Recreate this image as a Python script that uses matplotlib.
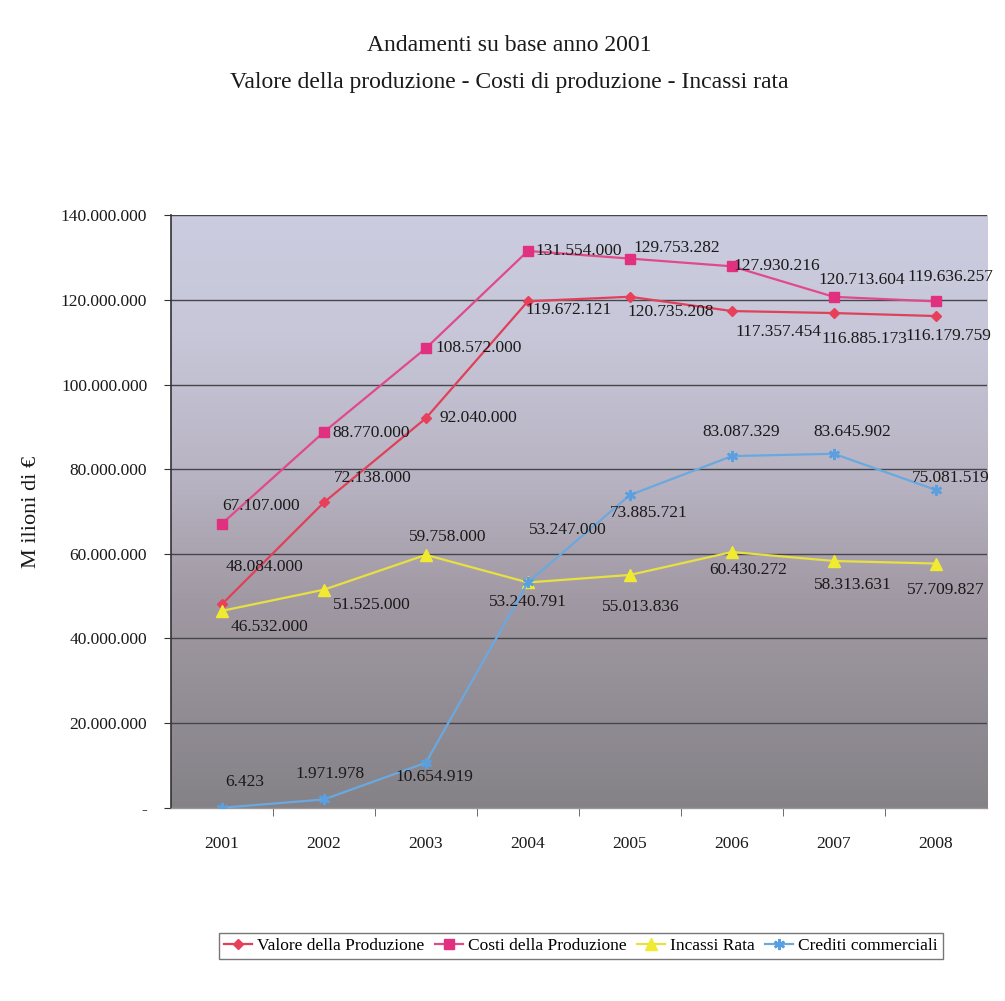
import numpy as np
import matplotlib
matplotlib.use("Agg")
import matplotlib.pyplot as plt
from matplotlib.colors import LinearSegmentedColormap
from matplotlib.ticker import FuncFormatter, FixedLocator

plt.rcParams['font.family'] = ['Liberation Serif', 'DejaVu Serif']

years = ['2001', '2002', '2003', '2004', '2005', '2006', '2007', '2008']
valore = [48084000, 72138000, 92040000, 119672121, 120735208, 117357454, 116885173, 116179759]
costi = [67107000, 88770000, 108572000, 131554000, 129753282, 127930216, 120713604, 119636257]
incassi = [46532000, 51525000, 59758000, 53240791, 55013836, 60430272, 58313631, 57709827]
crediti = [6423, 1971978, 10654919, 53247000, 73885721, 83087329, 83645902, 75081519]

series_names = ['Valore della Produzione', 'Costi della Produzione', 'Incassi Rata', 'Crediti commerciali']

# label offsets (pixels) relative to each point
off_valore = [(43, 37), (49, 24), (53, 0), (41, -9), (41, -15), (47, -21), (30, -26), (12, -20)]
off_costi = [(39, 18), (47, -1), (53, 0), (51, 0), (47, 11), (45, 0), (28, 17), (14, 24)]
off_incassi = [(48, -16), (48, -15), (22, 18), (0, -20), (11, -32), (16, -18), (19, -24), (10, -26)]
off_crediti = [(23, 26), (6, 25), (9, -14), (40, 52), (19, -18), (9, 24), (18, 22), (15, 12)]


def fmt_it(v):
    return f"{int(round(v)):,}".replace(',', '.')


fig = plt.figure(figsize=(10.05, 10.01), dpi=100)
ax = fig.add_axes([0.170, 0.193, 0.812, 0.592])

x = np.arange(len(years))
ax.set_xlim(-0.5, len(years) - 0.5)
ax.set_ylim(0, 140000000)

# gradient background
cmap = LinearSegmentedColormap.from_list('bg', [
    (0.0, (0.52, 0.51, 0.53)),
    (0.35, (0.63, 0.60, 0.64)),
    (0.55, (0.72, 0.70, 0.76)),
    (0.8, (0.78, 0.78, 0.85)),
    (1.0, (0.80, 0.80, 0.88)),
])
grad = np.linspace(0, 1, 256).reshape(-1, 1)
ax.imshow(grad, aspect='auto', cmap=cmap, origin='lower',
          extent=[-0.5, len(years) - 0.5, 0, 140000000], zorder=0)

# grid
for gv in range(20000000, 140000001, 20000000):
    ax.axhline(gv, color='#45454c', lw=1.0, zorder=1)

specs = [
    (valore, off_valore, '#e0405a', 'D', 5, '#e8405a'),
    (costi, off_costi, '#e04a8a', 's', 7, '#e0307f'),
    (incassi, off_incassi, '#e8e040', '^', 8, '#f0ea30'),
    (crediti, off_crediti, '#6aa8e0', (6, 2, 0), 8, '#5aa0e0'),
]
handles = []
for (vals, offs, lc, mk, ms, mc), name in zip(specs, series_names):
    h, = ax.plot(x, vals, color=lc, lw=1.6, marker=mk, markersize=ms,
                 markerfacecolor=mc, markeredgecolor=mc,
                 mew=1.8 if isinstance(mk, tuple) else 1,
                 label=name, zorder=3)
    handles.append(h)
    for xi, v, (dx, dy) in zip(x, vals, offs):
        ax.annotate(fmt_it(v), (xi, v), xytext=(dx, dy), textcoords='offset pixels',
                    ha='center', va='center', fontsize=12.5, color='#1a1a1a', zorder=4)

# axes styling
for s in ['top', 'right']:
    ax.spines[s].set_visible(False)
ax.spines['left'].set_color('#333333')
ax.spines['left'].set_linewidth(1.2)
ax.spines['bottom'].set_color('#999999')
ax.spines['bottom'].set_linewidth(1.0)

ax.set_yticks(range(0, 140000001, 20000000))
ax.yaxis.set_major_formatter(FuncFormatter(lambda v, p: '-' if v == 0 else fmt_it(v)))
ax.tick_params(axis='y', labelsize=12.5, length=5, color='#333333', labelcolor='#1a1a1a', pad=12)

ax.set_xticks(x)
ax.set_xticklabels(years)
ax.xaxis.set_minor_locator(FixedLocator(np.arange(0.5, len(years) - 0.5, 1.0)))
ax.tick_params(axis='x', which='major', length=0, labelsize=12.5, pad=20, labelcolor='#1a1a1a')
ax.tick_params(axis='x', which='minor', length=6, color='#555555')

ax.set_ylabel('M ilioni di €', fontsize=16, labelpad=14, color='#1a1a1a')

fig.text(0.507, 0.955, 'Andamenti su base anno 2001', ha='center', va='center',
         fontsize=17, color='#1a1a1a')
fig.text(0.507, 0.918, 'Valore della produzione - Costi di produzione - Incassi rata',
         ha='center', va='center', fontsize=17, color='#1a1a1a')

leg = fig.legend(handles=handles, loc='center', bbox_to_anchor=(0.578, 0.055), ncol=4,
                 fontsize=12.5, frameon=True, fancybox=False, edgecolor='#555555',
                 handlelength=1.6, handletextpad=0.3, columnspacing=0.6,
                 borderpad=0.3)
leg.get_frame().set_linewidth(1.0)

fig.savefig('out.png', dpi=100, facecolor='white')
